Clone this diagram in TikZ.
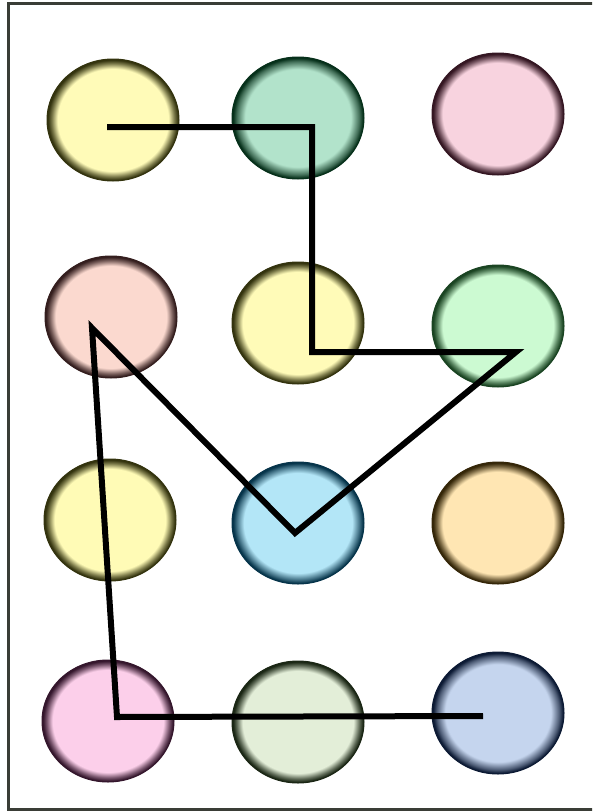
\documentclass[tikz,border=0pt]{standalone}
\usetikzlibrary{shapes.geometric}
\definecolor{framec}{HTML}{3A3D36}
\newcommand{\mkdot}[4]{%
  \definecolor{#1f}{HTML}{#2}\definecolor{#1r}{HTML}{#3}\colorlet{#1m}{#1f!35!#1r}%
  \pgfdeclareradialshading{#1s}{\pgfpoint{0bp}{0bp}}{color(0bp)=(#1f); color(#4bp)=(#1f); color(23.2bp)=(#1m); color(24.6bp)=(#1r); color(50bp)=(#1r)}}
\mkdot{ca}{FFFBB8}{33330E}{21}
\mkdot{cb}{B2E3CB}{06301A}{20}
\mkdot{cc}{F8D3DF}{341622}{21}
\mkdot{cd}{FBD9CF}{341E1E}{21}
\mkdot{ce}{FFFBB8}{33330E}{21}
\mkdot{cf}{CCFAD2}{1A4422}{21}
\mkdot{cg}{FFFBB6}{33330E}{21}
\mkdot{ch}{B3E6F7}{06344A}{20.5}
\mkdot{ci}{FFE6B3}{342608}{21}
\mkdot{cj}{FCCFEA}{34162C}{21}
\mkdot{ck}{E3EED8}{1A2614}{21}
\mkdot{cl}{C5D5EE}{0C1A34}{20}
\tikzset{
  dot/.style={ellipse, minimum width=132pt, minimum height=122pt, inner sep=0pt,
    shade, shading=#1s, draw=#1r, line width=1pt},
  pathline/.style={line width=6pt, black, line cap=butt, line join=miter},
}
\begin{document}
\begin{tikzpicture}[x=1pt, y=-1pt]
\useasboundingbox (0,0) rectangle (592,811);
\fill[white] (0,0) rectangle (592,811);
\begin{scope}
\clip (0,0) rectangle (592,811);
\draw[framec, line width=3pt] (8,3) rectangle (600,809);
\end{scope}
\node[dot=ca] (n11) at (113,120) {};
\node[dot=cb] (n12) at (298,118) {};
\node[dot=cc] (n13) at (498,114) {};
\node[dot=cd] (n21) at (111,317) {};
\node[dot=ce] (n22) at (298,323) {};
\node[dot=cf] (n23) at (498,326) {};
\node[dot=cg] (n31) at (110,520) {};
\node[dot=ch] (n32) at (298,523) {};
\node[dot=ci] (n33) at (498,523) {};
\node[dot=cj] (n41) at (108,721) {};
\node[dot=ck] (n42) at (298,722) {};
\node[dot=cl] (n43) at (498,713) {};
\coordinate (p1) at ([shift={(-6,7)}]n11.center);
\coordinate (p2) at ([shift={(14,9)}]n12.center);
\coordinate (p3) at ([shift={(14,29)}]n22.center);
\coordinate (p4) at ([shift={(18,26)}]n23.center);
\coordinate (p5) at ([shift={(-3,10)}]n32.center);
\coordinate (p6) at ([shift={(-19,11)}]n21.center);
\coordinate (p7) at ([shift={(9,-4)}]n41.center);
\coordinate (p8) at ([shift={(-15,3)}]n43.center);
\draw[pathline] (p1) -- (p2) -- (p3) -- (p4) -- (p5) -- (p6) -- (p7) -- (p8);
\end{tikzpicture}
\end{document}
